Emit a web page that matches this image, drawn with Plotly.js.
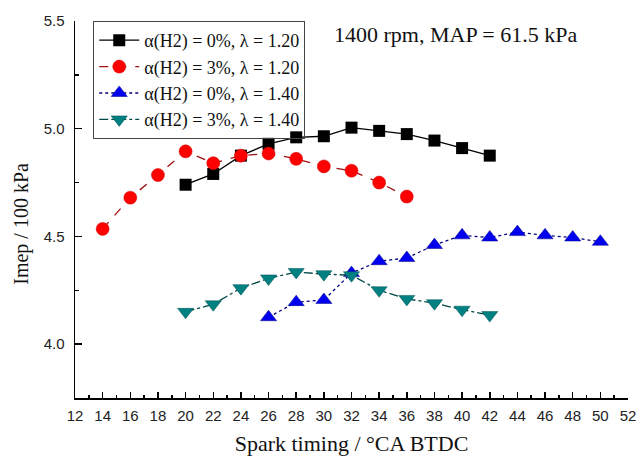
<!DOCTYPE html>
<html>
<head>
<meta charset="utf-8">
<script src="https://cdn.plot.ly/plotly-3.0.1.min.js"></script>
<style>html,body{margin:0;padding:0;background:#fff;}#chart{width:638px;height:456px;}</style>
</head>
<body>
<div id="chart"></div>
<script>
const xBlack = [20, 22, 24, 26, 28, 30, 32, 34, 36, 38, 40, 42];
const yBlack = [4.74, 4.79, 4.875, 4.93, 4.96, 4.965, 5.005, 4.99, 4.975, 4.945, 4.91, 4.875];
const xRed = [14, 16, 18, 20, 22, 24, 26, 28, 30, 32, 34, 36];
const yRed = [4.535, 4.68, 4.785, 4.895, 4.84, 4.875, 4.885, 4.86, 4.825, 4.805, 4.75, 4.685];
const xBlue = [26, 28, 30, 32, 34, 36, 38, 40, 42, 44, 46, 48, 50];
const yBlue = [4.125, 4.195, 4.205, 4.33, 4.385, 4.40, 4.46, 4.505, 4.495, 4.52, 4.505, 4.495, 4.475];
const xTeal = [20, 22, 24, 26, 28, 30, 32, 34, 36, 38, 40, 42];
const yTeal = [4.15, 4.185, 4.26, 4.305, 4.335, 4.325, 4.32, 4.25, 4.21, 4.19, 4.16, 4.135];
const names = ["\u03b1(H2) = 0%, \u03bb = 1.20", "\u03b1(H2) = 3%, \u03bb = 1.20", "\u03b1(H2) = 0%, \u03bb = 1.40", "\u03b1(H2) = 3%, \u03bb = 1.40"];

const traces = [
  {x: xBlack, y: yBlack, name: names[0], mode: "lines+markers",
   line: {color: "#000000", width: 1.3, dash: "solid"},
   marker: {symbol: "square", size: 12, color: "#000000"}},
  {x: xRed, y: yRed, name: names[1], mode: "lines+markers",
   line: {color: "#a01010", width: 1.3, dash: "dash"},
   marker: {symbol: "circle", size: 13, color: "#ff0000", line: {color: "#cc0000", width: 0.5}}},
  {x: xBlue, y: yBlue, name: names[2], mode: "lines+markers",
   line: {color: "#000080", width: 1.3, dash: "dot"},
   marker: {symbol: "triangle-up", size: 14, color: "#0000ee", line: {color: "#000088", width: 0.5}}},
  {x: xTeal, y: yTeal, name: names[3], mode: "lines+markers",
   line: {color: "#004848", width: 1.3, dash: "dashdot"},
   marker: {symbol: "triangle-down", size: 14, color: "#008080", line: {color: "#005050", width: 0.5}}}
];

const layout = {
  width: 638, height: 456,
  margin: {l: 75, r: 10, t: 21, b: 58},
  paper_bgcolor: "#ffffff", plot_bgcolor: "#ffffff",
  showlegend: true,
  legend: {
    x: 0.033, y: 1.0, xanchor: "left", yanchor: "top",
    bordercolor: "#444444", borderwidth: 1, bgcolor: "rgba(255,255,255,0)",
    font: {family: "Liberation Serif, Times New Roman, serif", size: 18, color: "#111"},
    tracegroupgap: 0, itemwidth: 40
  },
  xaxis: {
    range: [12, 52], dtick: 2, tick0: 12,
    showline: true, linecolor: "#000", linewidth: 1.5,
    ticks: "inside", ticklen: 6, tickcolor: "#000", tickwidth: 1.5,
    minor: {dtick: 1, ticks: "inside", ticklen: 3, tickcolor: "#000"},
    showgrid: false, zeroline: false, ticklabelstandoff: 3,
    tickfont: {family: "Liberation Sans, Arial, sans-serif", size: 15, color: "#222"},
    title: {text: "Spark timing / \u00b0CA BTDC", standoff: 14,
      font: {family: "Liberation Serif, Times New Roman, serif", size: 22, color: "#111"}}
  },
  yaxis: {
    range: [3.75, 5.5], dtick: 0.5, tick0: 4.0, tickformat: ".1f",
    showline: true, linecolor: "#000", linewidth: 1.5,
    ticks: "inside", ticklen: 7, tickcolor: "#000", tickwidth: 1.5,
    minor: {dtick: 0.25, ticks: "inside", ticklen: 4, tickcolor: "#000"},
    showgrid: false, zeroline: false, ticklabelstandoff: 6,
    tickfont: {family: "Liberation Sans, Arial, sans-serif", size: 15, color: "#222"}
  },
  annotations: [{
    text: "1400 rpm, MAP = 61.5 kPa", xref: "paper", yref: "paper",
    x: 0.465, y: 0.965, xanchor: "left", yanchor: "middle", showarrow: false,
    font: {family: "Liberation Serif, Times New Roman, serif", size: 22, color: "#111"}
  }, {
    text: "Imep / 100 kPa", xref: "paper", yref: "paper", textangle: -90,
    x: -0.096, y: 0.462, xanchor: "center", yanchor: "middle", showarrow: false,
    font: {family: "Liberation Serif, Times New Roman, serif", size: 20, color: "#111"}
  }]
};

Plotly.newPlot("chart", traces, layout, {displayModeBar: false, staticPlot: true});
</script>
</body>
</html>
